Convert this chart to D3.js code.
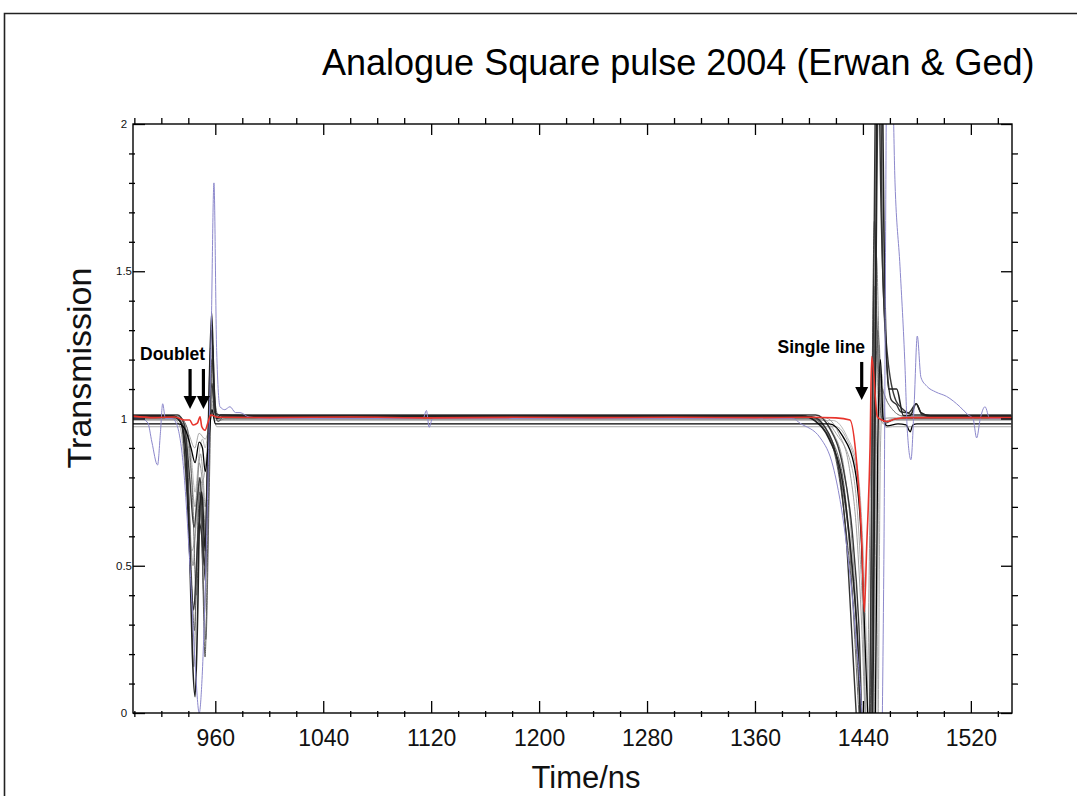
<!DOCTYPE html>
<html>
<head>
<meta charset="utf-8">
<script src="https://cdn.jsdelivr.net/npm/d3@7/dist/d3.min.js"></script>
<style>
  html, body { margin: 0; padding: 0; background: #fff; }
  svg { display: block; font-family: "Liberation Sans", Arial, Helvetica, sans-serif; }
</style>
</head>
<body>
<svg id="chart" width="1077" height="796"></svg>
<script>
// ---- Axis ticks and labels ----
const xMajorTicks = [960, 1040, 1120, 1200, 1280, 1360, 1440, 1520];
const yMajorTicks = [0, 0.5, 1, 1.5, 2];
const yTickLabels = ["0", "0.5", "1", "1.5", "2"];
const xDomain = [899, 1550.5];
const yDomain = [0, 2];

// ---- Transmission traces: [time (ns), transmission] ----
const traceBlack1 = [[899,1.009],[928,1.009],[934,0.99],[938,0.9],[941,0.55],[943,0.2],[945,0.055],[947,0.35],[948.5,0.7],[950,0.75],[952.5,0.55],[954.5,0.9],[957.3,1.36],[959,1.12],[961,1.0],[964,1.012],[990,1.009],[1395,1.009],[1405,0.99],[1415,0.93],[1425,0.78],[1432,0.5],[1437,0.15],[1440,-0.3],[1446,-0.3],[1449,1.0],[1451,2.6],[1453,2.6],[1456,1.5],[1459,1.1],[1465,1.1],[1470,1.01],[1475,1.01],[1479.5,1.05],[1483,1.02],[1490,1.009],[1550,1.009]];
const traceGray2 = [[899,1.003],[930,1.003],[936,0.98],[940,0.8],[942.5,0.45],[944.5,0.28],[946.5,0.55],[948.5,0.75],[950.5,0.5],[952.4,0.19],[954.5,0.6],[957.5,1.2],[959.5,1.05],[962,0.99],[966,1.005],[1000,1.003],[1398,1.003],[1410,0.97],[1420,0.86],[1428,0.6],[1434,0.3],[1438,0],[1441,-0.3],[1445,-0.3],[1447,1.2],[1448.5,1.67],[1450.5,1.3],[1454,1.0],[1457,0.985],[1465,1.0],[1550,1.003]];
const traceGray3 = [[899,1.0],[931,1.0],[937,0.97],[940.5,0.7],[942.5,0.35],[944,0.157],[946,0.45],[948,0.8],[950,0.6],[952,0.34],[954,0.7],[957,1.15],[959,1.04],[962,0.99],[967,1.0],[1403,1.0],[1413,0.96],[1422,0.83],[1430,0.58],[1436,0.25],[1440,-0.1],[1443,-0.3],[1446,-0.2],[1448.5,1.3],[1450,1.55],[1452.5,1.15],[1455,1.0],[1458,0.99],[1467,1.0],[1550,1.0]];
const traceBlack4 = [[899,1.012],[932,1.012],[937,0.98],[941,0.8],[944.2,0.63],[946.5,0.72],[948.7,0.8],[950.5,0.65],[952.5,0.45],[954.5,0.8],[957.5,1.12],[959.5,1.02],[963,1.012],[1405,1.012],[1415,0.97],[1425,0.84],[1432,0.62],[1437,0.3],[1441,-0.2],[1445,-0.2],[1449,1.2],[1452.5,2.4],[1454.6,1.515],[1458.3,1.21],[1464.5,1.06],[1470,1.03],[1478,1.012],[1550,1.012]];
const traceGray5 = [[899,0.997],[931,0.997],[936,0.97],[940,0.75],[943.5,0.5],[946,0.7],[948,0.85],[950.5,0.78],[953,0.6],[955,0.85],[958,1.1],[960,1.0],[964,0.997],[1408,0.997],[1418,0.95],[1426,0.83],[1432,0.57],[1436,0.25],[1439,-0.1],[1442,-0.2],[1446,0.9],[1449,1.45],[1451,1.15],[1453,1.0],[1456,0.98],[1462,0.997],[1550,0.997]];
const traceGray6 = [[899,1.002],[933,1.002],[938,0.97],[942,0.82],[945,0.7],[947,0.8],[949,0.88],[951,0.8],[952.5,0.7],[955,0.9],[958,1.06],[960,1.0],[965,1.002],[1412,1.002],[1422,0.95],[1430,0.83],[1436,0.57],[1439.5,0.25],[1441.5,0],[1444,-0.2],[1447,1.0],[1450,1.35],[1452,1.1],[1454,1.0],[1460,1.002],[1550,1.002]];
const traceGray7 = [[899,1.006],[933,1.006],[939,0.97],[943,0.75],[946,0.4],[947.5,0.55],[949,0.7],[951,0.45],[953,0.25],[955.5,0.75],[958,1.25],[960,1.05],[963,1.0],[967,1.006],[1400,1.006],[1412,0.96],[1424,0.83],[1430,0.57],[1434,0.25],[1437,0],[1440,-0.2],[1446,-0.2],[1449,1.0],[1451,1.3],[1453.5,1.12],[1456,1.08],[1462,1.03],[1470,1.008],[1550,1.006]];
const traceGray8 = [[899,0.999],[929,0.999],[934,0.97],[938,0.8],[942.5,0.55],[945,0.6],[947,0.7],[949.5,0.78],[951.5,0.8],[954,0.9],[957,1.05],[959,1.0],[963,0.999],[1410,0.999],[1420,0.95],[1432,0.83],[1437.5,0.57],[1440.5,0.25],[1442,0],[1444,-0.2],[1448,-0.1],[1450,0.9],[1452,1.25],[1454,1.05],[1456,0.99],[1462,0.999],[1550,0.999]];
const traceBlack9 = [[899,0.982],[933,0.982],[938,0.96],[942,0.9],[945,0.85],[948,0.92],[950.5,0.9],[952.5,0.82],[955,0.92],[957.5,1.03],[960,0.982],[1415,0.982],[1425,0.94],[1434,0.83],[1439,0.57],[1441.5,0.25],[1443.5,0],[1446,-0.2],[1449,-0.1],[1451,0.9],[1453,1.2],[1455,1.0],[1458,0.975],[1466,0.982],[1472,0.978],[1475,0.955],[1477,0.978],[1480,0.982],[1550,0.982]];
const traceBlack10 = [[899,1.006],[930,1.006],[935,0.98],[939,0.75],[942,0.45],[944,0.35],[946,0.5],[948,0.65],[950,0.6],[952,0.5],[954,0.8],[957.2,1.3],[959,1.1],[961,1.0],[965,1.006],[1402,1.006],[1412,0.97],[1422,0.83],[1428,0.57],[1432,0.25],[1435,0],[1438,-0.2],[1444,-0.2],[1447.5,1.2],[1450.5,2.5],[1453.5,1.7],[1458,1.17],[1461,1.063],[1465,1.046],[1468,1.023],[1474,1.02],[1479.5,1.05],[1484,1.012],[1490,1.006],[1550,1.006]];
const traceGray11 = [[899,0.993],[934,0.993],[939,0.97],[942,0.88],[945,0.75],[948.5,0.9],[950.5,0.93],[952.5,0.9],[955,0.97],[957.5,1.05],[960,0.993],[1418,0.993],[1428,0.94],[1436,0.83],[1440,0.57],[1442.5,0.25],[1444,0],[1446,-0.2],[1450,-0.1],[1452,0.9],[1454,1.15],[1456,1.0],[1458,0.99],[1464,0.993],[1550,0.993]];
const traceGray12 = [[899,0.972],[935,0.972],[940,0.95],[944.8,0.9],[948,0.95],[952.5,0.93],[955,0.96],[958,1.02],[961,0.972],[1420,0.972],[1428,0.93],[1435,0.83],[1439,0.57],[1442,0],[1445,-0.2],[1451,-0.1],[1453,0.9],[1455,1.1],[1457,0.97],[1462,0.972],[1550,0.972]];
const traceRed = [[899,1.008],[915,1.003],[930,1.005],[937,0.995],[941,0.995],[943.5,0.978],[946.7,0.984],[948.7,1.006],[950,0.972],[952.4,0.96],[954.8,0.99],[956.6,1.012],[962,1.004],[1000,1.003],[1060,1.005],[1120,1.002],[1180,1.004],[1240,1.003],[1300,1.004],[1360,1.003],[1400,1.004],[1420,1.002],[1430.4,0.995],[1435.4,0.848],[1439.1,0.587],[1441,0.344],[1442.8,0.565],[1445.3,0.904],[1446.5,1.21],[1450.7,1.006],[1454,0.995],[1457.6,0.99],[1463.8,0.998],[1475,1.003],[1550,1.003]];
const traceBlue = [[899,1.0],[905,1.0],[910,0.985],[913,0.92],[917.2,0.842],[919.3,0.95],[921,1.05],[923,1.0],[928,1.0],[931.4,0.98],[936.3,0.84],[941.2,0.5],[945,0.17],[948.1,0.0],[950,0.1],[952.4,0.4],[954.8,0.84],[957,1.3],[959,1.8],[961,1.23],[963.5,1.04],[967,1.03],[970.9,1.04],[975,1.02],[978.3,1.02],[985,1.005],[1000,1.0],[1114,1.0],[1116.5,1.027],[1118.5,0.97],[1121,1.0],[1388,1.0],[1393.4,0.984],[1408.4,0.934],[1418,0.835],[1428,0.565],[1435.4,0.225],[1439.1,0.01],[1442,-0.3],[1453,-0.3],[1455.5,0.5],[1458,2.3],[1461,2.3],[1463.8,1.8],[1467.5,1.515],[1471.2,1.175],[1472.9,0.96],[1475.6,0.86],[1478,1.05],[1480.3,1.28],[1483,1.14],[1487.3,1.11],[1494,1.09],[1502,1.075],[1511.9,1.04],[1518,1.012],[1521.6,1.0],[1524.3,0.934],[1527,1.0],[1530.5,1.04],[1534,1.0],[1550,1.0]];

// draw order (back to front), with stroke colour and width
const traces = [
  { data: traceGray12, color: "#a8a8a8", width: 1.0 },
  { data: traceGray11, color: "#b8b8b8", width: 1.0 },
  { data: traceGray8,  color: "#a0a0a0", width: 0.9 },
  { data: traceGray6,  color: "#959595", width: 0.9 },
  { data: traceGray5,  color: "#8a8a8a", width: 0.9 },
  { data: traceGray3,  color: "#7a7a7a", width: 0.9 },
  { data: traceGray7,  color: "#6a6a6a", width: 1.0 },
  { data: traceGray2,  color: "#5a5a5a", width: 1.0 },
  { data: traceBlack4, color: "#3a3a3a", width: 1.4 },
  { data: traceBlack10,color: "#333333", width: 1.4 },
  { data: traceBlack1, color: "#222222", width: 1.6 },
  { data: traceBlack9, color: "#000000", width: 1.3 },
  { data: traceBlue,   color: "#8c88cc", width: 1.0 },
  { data: traceRed,    color: "#e8342c", width: 1.6 }
];

// annotations: label text, label anchor (time, value), arrow positions
const doubletLabel = { text: "Doublet", t: 904.2, v: 1.199, anchor: "start" };
const doubletArrows = [941.3, 951.2];
const doubletArrowSpan = [1.168, 1.032];
const singleLabel = { text: "Single line", t: 1441.6, v: 1.222, anchor: "end" };
const singleArrows = [1439.1];
const singleArrowSpan = [1.192, 1.063];

// ---- Layout ----
const plot = { left: 133, right: 1012, top: 124, bottom: 713 };
const svg = d3.select("#chart");

const x = d3.scaleLinear().domain(xDomain).range([plot.left, plot.right]);
const y = d3.scaleLinear().domain(yDomain).range([plot.bottom, plot.top]);

// page frame
svg.append("path")
  .attr("d", "M4.5,796 L4.5,13.5 L1077,13.5")
  .attr("fill", "none").attr("stroke", "#222").attr("stroke-width", 1.6);

// title
svg.append("text")
  .attr("x", 322).attr("y", 75)
  .attr("font-size", 36).attr("fill", "#000")
  .text("Analogue Square pulse 2004 (Erwan & Ged)");

// clip for traces
svg.append("clipPath").attr("id", "plotClip")
  .append("rect")
  .attr("x", plot.left).attr("y", plot.top)
  .attr("width", plot.right - plot.left).attr("height", plot.bottom - plot.top);

const line = d3.line()
  .x(d => x(d[0])).y(d => y(d[1]))
  .curve(d3.curveMonotoneX);

const gTraces = svg.append("g").attr("clip-path", "url(#plotClip)");
traces.forEach(tr => {
  gTraces.append("path")
    .datum(tr.data)
    .attr("d", line)
    .attr("fill", "none")
    .attr("stroke", tr.color)
    .attr("stroke-width", tr.width)
    .attr("stroke-linejoin", "round");
});

// ---- Axes ----
const xMinorTicks = d3.range(900, 1550, 20).filter(t => !xMajorTicks.includes(t));
const yMinorTicks = d3.range(1, 20).map(i => i / 10).filter(v => !yMajorTicks.some(m => Math.abs(m - v) < 1e-9));

function styleAxis(g) {
  g.select(".domain").remove();
  g.selectAll(".tick line").attr("stroke", "#000").attr("stroke-width", 1.3);
}

// bottom: major ticks inward with labels
svg.append("g")
  .attr("transform", `translate(0,${plot.bottom})`)
  .call(d3.axisBottom(x).tickValues(xMajorTicks).tickSizeInner(-12).tickSizeOuter(0).tickPadding(17).tickFormat(d3.format("d")))
  .call(styleAxis)
  .call(g => g.selectAll(".tick text").attr("font-size", 23).attr("fill", "#111").attr("font-family", "Liberation Sans, Arial, sans-serif"));
// bottom minor ticks straddle the axis line
svg.append("g")
  .attr("transform", `translate(0,${plot.bottom})`)
  .call(d3.axisBottom(x).tickValues(xMinorTicks).tickSize(4).tickFormat(""))
  .call(styleAxis)
  .call(g => g.selectAll(".tick line").attr("y1", -2));

// top: major inward, minor outward
svg.append("g")
  .attr("transform", `translate(0,${plot.top})`)
  .call(d3.axisTop(x).tickValues(xMajorTicks).tickSizeInner(-11).tickSizeOuter(0).tickFormat(""))
  .call(styleAxis);
svg.append("g")
  .attr("transform", `translate(0,${plot.top})`)
  .call(d3.axisTop(x).tickValues(xMinorTicks).tickSize(6).tickFormat(""))
  .call(styleAxis);

// left: major inward with labels, minor straddling
svg.append("g")
  .attr("transform", `translate(${plot.left},0)`)
  .call(d3.axisLeft(y).tickValues(yMajorTicks).tickSizeInner(-12).tickSizeOuter(0)
    .tickFormat((d, i) => yTickLabels[i]))
  .call(styleAxis)
  .call(g => g.selectAll(".tick text")
    .attr("x", -9).attr("text-anchor", "middle")
    .attr("font-size", 11.5).attr("fill", "#111")
    .attr("font-family", "Liberation Sans, Arial, sans-serif"));
svg.append("g")
  .attr("transform", `translate(${plot.left},0)`)
  .call(d3.axisLeft(y).tickValues(yMinorTicks).tickSize(4).tickFormat(""))
  .call(styleAxis)
  .call(g => g.selectAll(".tick line").attr("x1", 2));

// right: major inward, minor outward
svg.append("g")
  .attr("transform", `translate(${plot.right},0)`)
  .call(d3.axisRight(y).tickValues(yMajorTicks).tickSizeInner(-11).tickSizeOuter(0).tickFormat(""))
  .call(styleAxis);
svg.append("g")
  .attr("transform", `translate(${plot.right},0)`)
  .call(d3.axisRight(y).tickValues(yMinorTicks).tickSize(6).tickFormat(""))
  .call(styleAxis);

// plot frame
svg.append("rect")
  .attr("x", plot.left).attr("y", plot.top)
  .attr("width", plot.right - plot.left).attr("height", plot.bottom - plot.top)
  .attr("fill", "none").attr("stroke", "#000").attr("stroke-width", 1.4);

// axis titles
svg.append("text")
  .attr("x", 586).attr("y", 788)
  .attr("text-anchor", "middle").attr("font-size", 31).attr("fill", "#111")
  .text("Time/ns");
svg.append("text")
  .attr("transform", `translate(91,${368}) rotate(-90)`)
  .attr("text-anchor", "middle").attr("font-size", 34).attr("fill", "#111")
  .text("Transmission");

// ---- Annotations ----
function drawLabel(l) {
  svg.append("text")
    .attr("x", x(l.t)).attr("y", y(l.v))
    .attr("text-anchor", l.anchor)
    .attr("font-size", 17.5).attr("font-weight", "bold").attr("fill", "#000")
    .text(l.text);
}
function drawArrow(t, span) {
  const ax = x(t), y0 = y(span[0]), y1 = y(span[1]);
  const headH = 13, headW = 6.5;
  svg.append("line")
    .attr("x1", ax).attr("x2", ax).attr("y1", y0).attr("y2", y1 - headH + 1)
    .attr("stroke", "#000").attr("stroke-width", 3.2);
  svg.append("path")
    .attr("d", `M${ax - headW},${y1 - headH} L${ax + headW},${y1 - headH} L${ax},${y1} Z`)
    .attr("fill", "#000");
}
drawLabel(doubletLabel);
doubletArrows.forEach(t => drawArrow(t, doubletArrowSpan));
drawLabel(singleLabel);
singleArrows.forEach(t => drawArrow(t, singleArrowSpan));
</script>
</body>
</html>
